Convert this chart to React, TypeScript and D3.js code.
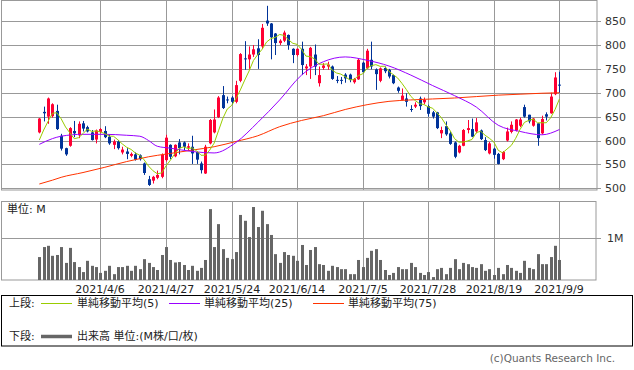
import React from 'react';
import * as d3 from 'd3';

// daily candles (index 0 = first session shown, 119 = 2021/9/9)
const opens = [
  617, 660, 650, 651, 662, 610, 584, 589, 620, 611, 636, 628, 617, 602, 618, 620, 608, 591, 598, 575,
  577, 568, 571, 569, 552, 519, 516, 522, 524, 559, 591, 567, 596, 596, 585, 587, 576, 552, 531, 594,
  617, 649, 695, 686, 690, 681, 725, 772, 770, 780, 793, 797, 851, 845, 824, 804, 809, 821, 792, 779,
  792, 751, 755, 780, 720, 752, 755, 755, 727, 727, 738, 738, 722, 728, 763, 751, 769, 749, 725, 752,
  748, 737, 711, 685, 688, 666, 671, 688, 680, 672, 659, 659, 615, 630, 615, 596, 575, 589, 622, 624,
  619, 621, 601, 573, 583, 572, 561, 600, 618, 621, 631, 670, 654, 631, 636, 615, 655, 657, 697, 717,
];
const highs = [
  647, 671, 690, 678, 675, 614, 585, 628, 641, 640, 641, 631, 622, 623, 626, 630, 613, 602, 601, 587,
  584, 575, 575, 571, 554, 526, 526, 537, 573, 612, 592, 592, 603, 598, 594, 610, 577, 556, 591, 645,
  665, 693, 714, 692, 693, 725, 783, 808, 797, 800, 812, 844, 882, 846, 825, 812, 830, 822, 793, 793,
  807, 760, 796, 801, 755, 762, 765, 757, 735, 733, 741, 740, 731, 771, 765, 792, 807, 751, 753, 755,
  750, 738, 713, 709, 699, 674, 680, 692, 690, 675, 662, 660, 629, 640, 619, 598, 591, 624, 643, 646,
  647, 623, 607, 597, 585, 574, 578, 627, 640, 645, 648, 675, 654, 647, 636, 652, 659, 700, 743, 744,
];
const lows = [
  615, 640, 635, 648, 622, 579, 568, 587, 607, 605, 619, 617, 600, 594, 615, 605, 591, 582, 581, 571,
  561, 565, 558, 558, 528, 505, 510, 519, 521, 556, 561, 565, 571, 580, 578, 551, 551, 531, 530, 592,
  615, 647, 666, 678, 675, 678, 722, 748, 748, 775, 750, 792, 840, 770, 779, 800, 806, 790, 762, 776,
  737, 737, 729, 737, 713, 748, 748, 727, 720, 718, 721, 722, 719, 727, 741, 750, 749, 706, 722, 741,
  730, 718, 700, 684, 671, 660, 668, 664, 676, 650, 646, 624, 605, 610, 591, 563, 573, 588, 615, 607,
  615, 601, 578, 571, 562, 550, 559, 598, 615, 619, 628, 648, 636, 629, 589, 613, 642, 656, 695, 700,
];
const closes = [
  646, 657, 688, 676, 624, 583, 571, 626, 615, 635, 625, 619, 601, 621, 624, 607, 594, 598, 584, 581,
  572, 572, 560, 561, 532, 507, 524, 528, 570, 606, 566, 591, 584, 587, 588, 573, 560, 538, 587, 643,
  644, 690, 668, 684, 681, 716, 781, 770, 780, 791, 779, 836, 845, 816, 804, 809, 826, 800, 779, 792,
  758, 755, 794, 755, 737, 757, 759, 729, 725, 725, 730, 727, 729, 769, 743, 788, 755, 739, 751, 745,
  734, 720, 704, 694, 681, 664, 675, 672, 685, 656, 650, 626, 622, 613, 593, 566, 589, 622, 626, 608,
  638, 603, 580, 594, 570, 551, 576, 619, 633, 644, 644, 650, 640, 646, 605, 645, 650, 692, 732, 715,
];
// volume, millions of shares
const volumes = [
  0.55, 0.79, 0.82, 0.58, 0.60, 0.79, 0.41, 0.77, 0.43, 0.31, 0.19, 0.46, 0.34, 0.31, 0.17, 0.22, 0.34, 0.14, 0.31, 0.31,
  0.34, 0.22, 0.34, 0.26, 0.50, 0.41, 0.31, 0.24, 0.60, 0.79, 0.48, 0.42, 0.43, 0.36, 0.24, 0.34, 0.22, 0.29, 0.48, 1.70,
  0.79, 1.34, 0.74, 0.53, 0.50, 0.67, 1.56, 1.42, 1.03, 1.75, 1.27, 1.66, 1.34, 1.08, 0.62, 0.41, 0.67, 0.60, 0.58, 0.46,
  0.84, 0.36, 0.72, 0.79, 0.38, 0.36, 0.22, 0.34, 0.31, 0.26, 0.26, 0.14, 0.14, 0.48, 0.31, 0.53, 0.70, 0.74, 0.48, 0.24,
  0.12, 0.17, 0.31, 0.26, 0.26, 0.41, 0.31, 0.17, 0.12, 0.19, 0.07, 0.26, 0.29, 0.14, 0.29, 0.50, 0.26, 0.41, 0.38, 0.31,
  0.29, 0.38, 0.22, 0.26, 0.12, 0.29, 0.14, 0.36, 0.29, 0.22, 0.17, 0.46, 0.29, 0.26, 0.62, 0.38, 0.38, 0.55, 0.82, 0.48,
];
// first MA5 values (need sessions before the window)
const ma5Head = [601, 622, 640, 657];
// MA25 / MA75 at these sessions
const maIdx = [0, 3, 5, 10, 15, 20, 23, 25, 27, 30, 35, 40, 45, 50, 55, 60, 65, 70, 75, 80, 85, 90, 95, 100, 105, 110, 115, 119];
const ma25 = [592, 604, 609, 613, 613, 611, 609, 600, 588, 584, 577, 574, 596, 638, 685, 737, 765, 775, 768, 756, 737, 715, 694, 670, 632, 619, 612, 623];
const ma75 = [509, 517, 523, 533, 544, 556, 562, 566, 569, 573, 580, 587, 598, 610, 629, 642, 652, 665, 675, 682, 685, 687, 689, 692, 695, 697, 699, 700];

const priceTicks = [500, 550, 600, 650, 700, 750, 800, 850];
const dateTickIdx = [14, 29, 44, 59, 74, 89, 104, 119];
const dateTickLabels = ['2021/4/6', '2021/4/27', '2021/5/24', '2021/6/14', '2021/7/5', '2021/7/28', '2021/8/19', '2021/9/9'];

const UP = '#ff0033';
const DOWN = '#003399';
const C5 = '#99cc00';
const C25 = '#9900ff';
const C75 = '#ff3300';
const GRID = '#999999';
const FONT = "'DejaVu Sans', 'Noto Sans CJK JP', sans-serif";

export default function App() {
  const x = d3.scaleLinear().domain([0, 119]).range([39.3, 559.4]);
  const y = d3.scaleLinear().domain([500, 850]).range([188.3, 21.1]);
  const yv = d3.scaleLinear().domain([0, 1]).range([280, 238.3]);

  const px = (i: number) => Math.round(x(i));
  const crisp = (v: number) => Math.round(v) + 0.5;

  const ma5 = closes.map((_, i) => (i < 4 ? ma5Head[i] : d3.mean(closes.slice(i - 4, i + 1)) as number));

  const line = d3.line<number>().x((_, i) => x(i)).y(d => y(d));
  const lineAt = d3.line<number>().x((_, k) => x(maIdx[k])).y(d => y(d)).curve(d3.curveMonotoneX);

  return (
    <svg width={634} height={370} style={{ position: 'absolute', left: 0, top: 0, background: '#fff' }} fontFamily={FONT}>
      {/* price panel grid */}
      {priceTicks.map(t => (
        <g key={t}>
          <line x1={1} x2={601} y1={crisp(y(t))} y2={crisp(y(t))} stroke={GRID} />
          <text x={605} y={y(t) + 4} fontSize={11} fill="#333">{t}</text>
        </g>
      ))}
      {dateTickIdx.map(i => (
        <g key={i}>
          <line x1={px(i) + 0.5} x2={px(i) + 0.5} y1={1} y2={190} stroke={GRID} />
          <line x1={px(i) + 0.5} x2={px(i) + 0.5} y1={202} y2={280} stroke={GRID} />
        </g>
      ))}
      <rect x={1.5} y={0.5} width={595.5} height={189.5} fill="none" stroke={GRID} />

      {/* candles */}
      {closes.map((c, i) => {
        const o = opens[i];
        const col = c >= o ? UP : DOWN;
        const top = y(Math.max(o, c));
        const h = Math.max(1, y(Math.min(o, c)) - top);
        return (
          <g key={i}>
            <line x1={px(i) + 0.5} x2={px(i) + 0.5} y1={y(highs[i])} y2={y(lows[i])} stroke={col} />
            <rect x={px(i) - 1} y={top} width={3} height={h} fill={col} />
          </g>
        );
      })}

      {/* moving averages */}
      <path d={lineAt(ma75) || ''} fill="none" stroke={C75} strokeWidth={1} />
      <path d={lineAt(ma25) || ''} fill="none" stroke={C25} strokeWidth={1} />
      <path d={line(ma5) || ''} fill="none" stroke={C5} strokeWidth={1} />

      {/* volume panel */}
      <line x1={2} x2={601} y1={crisp(yv(1))} y2={crisp(yv(1))} stroke={GRID} />
      <text x={607} y={yv(1) + 4} fontSize={11} fill="#333">1M</text>
      <rect x={1.5} y={201.5} width={594.5} height={78.5} fill="none" stroke={GRID} />
      <text x={7} y={213} fontSize={11} fill="#222">単位: M</text>
      {volumes.map((v, i) => (
        <rect key={i} x={px(i) - 1} y={yv(v)} width={3} height={yv(0) - yv(v)} fill="#666666" />
      ))}
      {dateTickIdx.map((i, k) => (
        <text key={i} x={px(i)} y={293} fontSize={11} fill="#222" textAnchor="middle">{dateTickLabels[k]}</text>
      ))}

      {/* legend */}
      <rect x={1.5} y={295.5} width={631} height={50.5} fill="none" stroke="#000" />
      <text x={9} y={307} fontSize={11} fill="#222">上段:</text>
      <line x1={41} x2={72} y1={303.5} y2={303.5} stroke={C5} />
      <text x={77} y={307} fontSize={11} fill="#222">単純移動平均(5)</text>
      <line x1={169} x2={200} y1={303.5} y2={303.5} stroke={C25} />
      <text x={204} y={307} fontSize={11} fill="#222">単純移動平均(25)</text>
      <line x1={313} x2={344} y1={303.5} y2={303.5} stroke={C75} />
      <text x={348} y={307} fontSize={11} fill="#222">単純移動平均(75)</text>
      <text x={9} y={340} fontSize={11} fill="#222">下段:</text>
      <line x1={41} x2={72} y1={336.5} y2={336.5} stroke="#666666" strokeWidth={3.5} />
      <text x={77} y={340} fontSize={11} fill="#222">出来高 単位:(M株/口/枚)</text>

      <text x={615} y={362} fontSize={10.5} fill="#666" textAnchor="end">(c)Quants Research Inc.</text>
    </svg>
  );
}
